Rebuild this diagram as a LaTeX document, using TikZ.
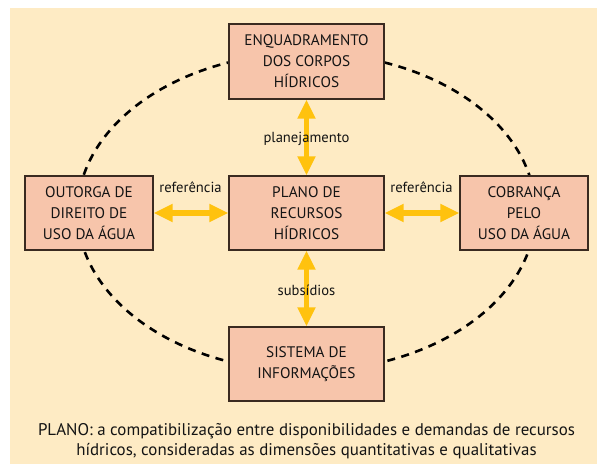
\documentclass[tikz,border=0pt]{standalone}
\usepackage{fontspec}
\setmainfont{PT Sans}
\usetikzlibrary{arrows.meta}
\definecolor{bgc}{HTML}{FEEBC4}
\definecolor{boxc}{HTML}{F7C5AB}
\definecolor{arrc}{HTML}{FFC20E}
\definecolor{edgec}{HTML}{3A2A20}
\tikzset{
  boxnode/.style={draw=edgec, line width=1.3pt, fill=boxc, align=center, inner sep=0pt,
    font=\fontsize{15.3}{21}\selectfont, text=black!92},
  lbl/.style={font=\fontsize{14.6}{16}\selectfont, text=black!92, inner sep=0pt},
  dbl/.style={arrc, line width=5.5pt, {Triangle[width=17pt,length=19pt]}-{Triangle[width=17pt,length=19pt]}},
}
\begin{document}
\begin{tikzpicture}[x=1pt,y=-1pt]
\useasboundingbox (0,0) rectangle (597,464);
\fill[bgc] (10,8) rectangle (597,464);
\draw[line width=2.6pt, dash pattern=on 8pt off 6.5pt] (306.5,212) ellipse [x radius=229, y radius=159];
\node[boxnode, minimum width=155pt, minimum height=75pt] (top) at (306.5,61.5) {ENQUADRAMENTO\\DOS CORPOS\\HÍDRICOS};
\node[boxnode, minimum width=155pt, minimum height=74pt] (plano) at (306.5,213) {PLANO DE\\RECURSOS\\HÍDRICOS};
\node[boxnode, minimum width=128pt, minimum height=74pt] (left) at (89,213) {OUTORGA DE\\DIREITO DE\\USO DA ÁGUA};
\node[boxnode, minimum width=128pt, minimum height=74pt] (right) at (524,213) {COBRANÇA\\PELO\\USO DA ÁGUA};
\node[boxnode, minimum width=155pt, minimum height=74pt] (bot) at (306.5,364) {SISTEMA DE\\INFORMAÇÕES};
\draw[dbl] (top.south) -- (plano.north);
\draw[dbl] (plano.south) -- (bot.north);
\draw[dbl] (left.east) -- (plano.west);
\draw[dbl] (plano.east) -- (right.west);
\node[lbl] (l1) at (306.5,139) {planejamento};
\node[lbl] (l2) at (190.5,187) {referência};
\node[lbl] (l3) at (421.5,187) {referência};
\node[lbl] (l4) at (306.5,290) {subsídios};
\node[align=center, inner sep=0pt, font=\fontsize{16.9}{20.5}\selectfont, text=black!92] (cap) at (306.5,441)
  {PLANO: a compatibilização entre disponibilidades e demandas de recursos\\hídricos, consideradas as dimensões quantitativas e qualitativas};
\end{tikzpicture}
\end{document}
